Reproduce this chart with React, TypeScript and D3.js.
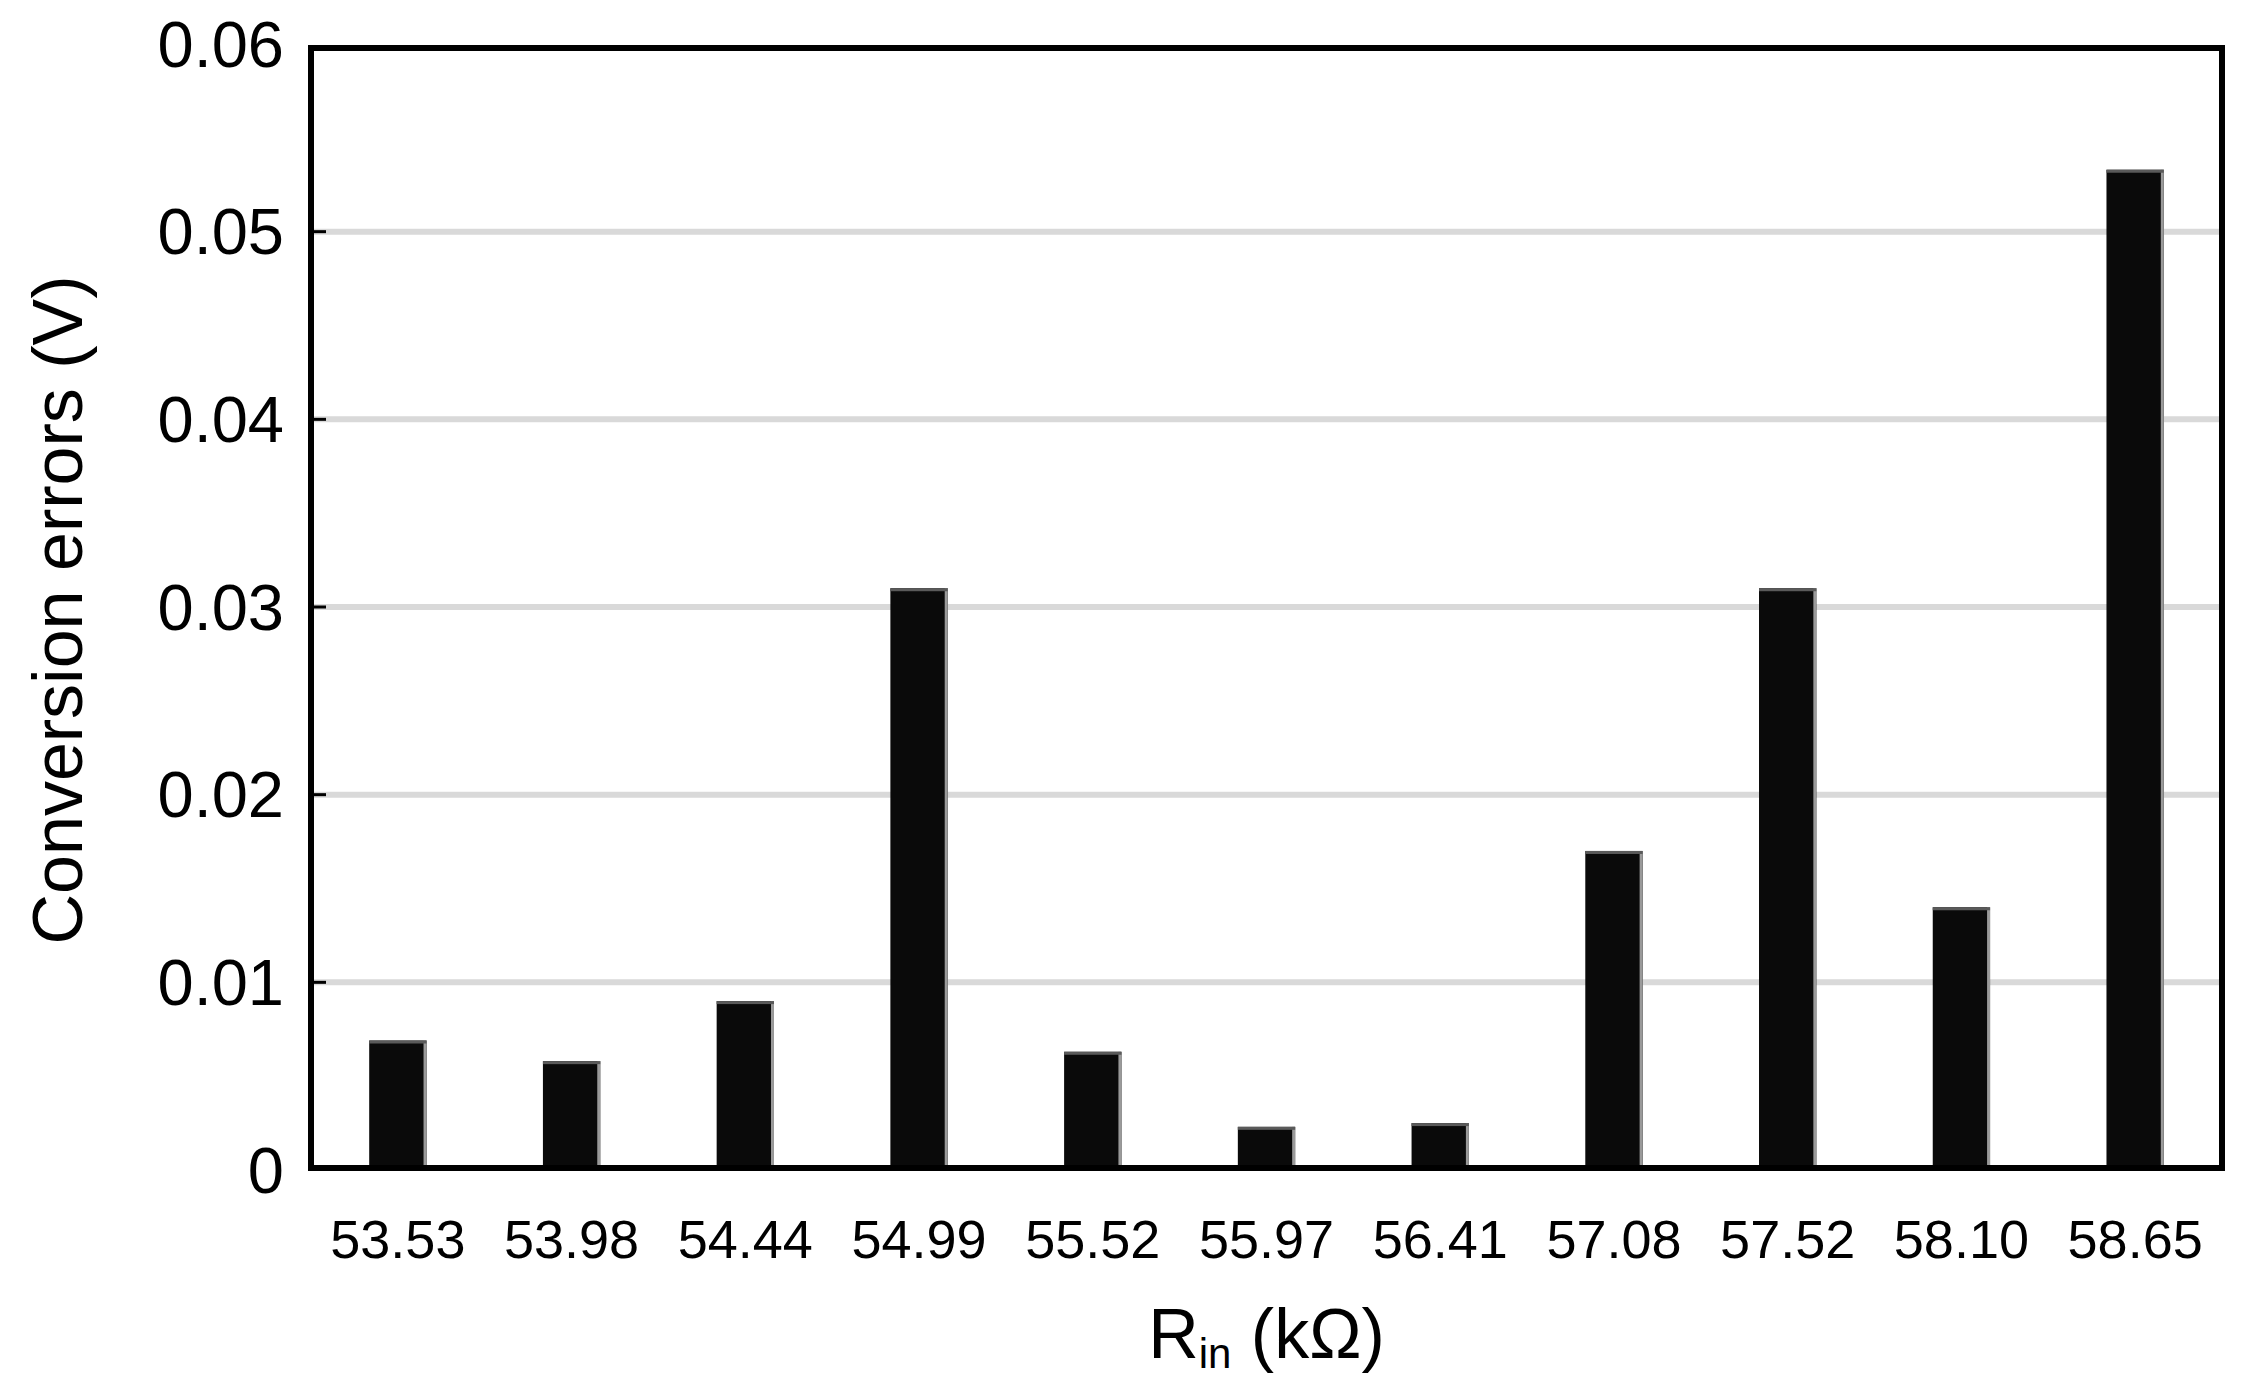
import React from "react";
import * as d3 from "d3";

const categories: string[] = ["53.53", "53.98", "54.44", "54.99", "55.52", "55.97", "56.41", "57.08", "57.52", "58.10", "58.65"];
const errors: number[] = [0.0069, 0.0058, 0.009, 0.031, 0.0063, 0.0023, 0.0025, 0.017, 0.031, 0.014, 0.0533];
const yTicks: number[] = [0, 0.01, 0.02, 0.03, 0.04, 0.05, 0.06];
const yTickLabels: string[] = ["0", "0.01", "0.02", "0.03", "0.04", "0.05", "0.06"];

const W = 2252;
const H = 1388;
const left = 311;
const right = 2222;
const top = 48;
const bottom = 1168;
const FONT = "'Liberation Sans', Arial, Helvetica, sans-serif";

export default function App() {
  const x = d3.scaleBand<string>().domain(categories).range([left, right]).paddingInner(0.67).paddingOuter(0.335);
  const y = d3.scaleLinear().domain([0, 0.06]).range([1170, 44]);
  const bw = x.bandwidth();

  return (
    <svg width={W} height={H} style={{ position: "absolute", left: 0, top: 0, background: "#fff" }}>
      <rect x={0} y={0} width={W} height={H} fill="#fff" />
      {/* gridlines */}
      {yTicks.slice(1, -1).map((t) => (
        <line key={"g" + t} x1={left + 3} x2={right - 3} y1={y(t)} y2={y(t)} stroke="#d9d9d9" strokeWidth={6} />
      ))}
      {/* bars */}
      {categories.map((c, i) => {
        const bx = x(c)!;
        const by = y(errors[i]);
        const h = bottom - by;
        return (
          <g key={c}>
            <rect x={bx} y={by} width={bw} height={h} fill="#0a0a0a" />
            <rect x={bx + bw - 3} y={by} width={3} height={h} fill="#9a9a9a" />
            <rect x={bx} y={by} width={bw} height={3} fill="#5a5a5a" />
          </g>
        );
      })}
      {/* ticks */}
      {yTicks.slice(1, -1).map((t) => (
        <line key={"t" + t} x1={left} x2={left + 15} y1={y(t)} y2={y(t)} stroke="#000" strokeWidth={3} />
      ))}
      {/* frame */}
      <rect x={left} y={top} width={right - left} height={bottom - top} fill="none" stroke="#000" strokeWidth={6} />
      {/* y tick labels */}
      {yTicks.map((t, i) => (
        <text key={"yl" + t} x={284} y={y(t)} textAnchor="end" dominantBaseline="central" fontFamily={FONT} fontSize={65} fill="#000">
          {yTickLabels[i]}
        </text>
      ))}
      {/* x tick labels */}
      {categories.map((c) => (
        <text key={"xl" + c} x={x(c)! + bw / 2} y={1258} textAnchor="middle" fontFamily={FONT} fontSize={54} fill="#000">
          {c}
        </text>
      ))}
      {/* x title */}
      <text x={(left + right) / 2} y={1358} textAnchor="middle" fontFamily={FONT} fontSize={70} fill="#000">
        R<tspan fontSize={42} dy={10}>in</tspan>
        <tspan dy={-10}> (kΩ)</tspan>
      </text>
      {/* y title */}
      <text transform={`translate(82, 610) rotate(-90)`} textAnchor="middle" fontFamily={FONT} fontSize={70} fill="#000">
        Conversion errors (V)
      </text>
    </svg>
  );
}
